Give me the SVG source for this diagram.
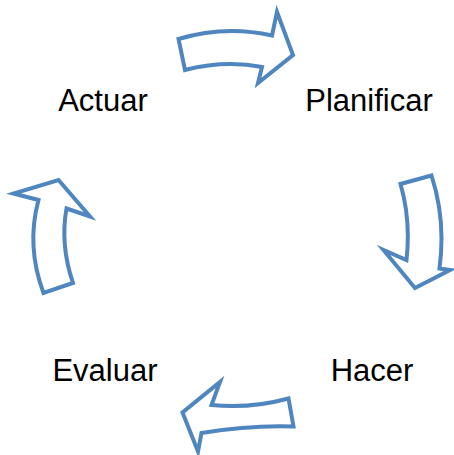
<svg xmlns="http://www.w3.org/2000/svg" width="454" height="455" viewBox="0 0 454 455">
<style>
.arr{fill:#fff;stroke:#4f86c0;stroke-width:4;stroke-linejoin:miter;stroke-miterlimit:10}
.lbl{font-family:"Liberation Sans",Arial,sans-serif;font-size:31px;fill:#000;text-anchor:middle}
</style>
<rect width="454" height="455" fill="#fff"/>
<g id="connectors">
<path class="arr" d="M178.5,39 Q225,25 272,35.5 L277,12 L293,55 L258,83 L262,67 Q225,60 185,70 Z"/>
<path class="arr" d="M431.5,175.5 Q446,220 439.5,268.5 L450,270 L415,288 L383.5,250 L406.5,260 Q411,220 400.5,184 Z"/>
<path class="arr" d="M288.5,398.5 Q250,409 211.5,405 L220,382 L182.5,412.5 L198,451.5 L201.5,433 Q250,425 293.5,426.5 Z"/>
<path class="arr" d="M43.5,293 Q26,246 38.5,200 L13.5,193.5 L58.5,180 L90,216.5 L66.5,208.5 Q60,245 73,283 Z"/>
</g>
<g id="actuar"><text class="lbl" x="103" y="111">Actuar</text></g>
<g id="planificar"><text class="lbl" x="369" y="111">Planificar</text></g>
<g id="hacer"><text class="lbl" x="372" y="381">Hacer</text></g>
<g id="evaluar"><text class="lbl" x="105" y="381">Evaluar</text></g>
</svg>
